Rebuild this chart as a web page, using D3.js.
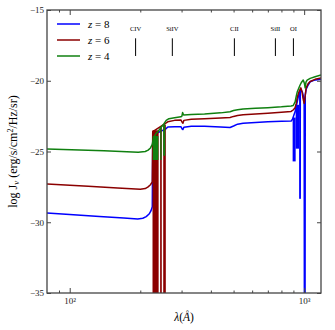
<!DOCTYPE html>
<html>
<head>
<meta charset="utf-8">
<script src="https://cdn.jsdelivr.net/npm/d3@7"></script>
<style>
  body { margin: 0; background: #fff; }
  text { font-family: "Liberation Serif", "DejaVu Serif", serif; }
</style>
</head>
<body>
<div id="chart"></div>
<script>
// data: [wavelength (A), log J]
const z8Line = [[80,-29.35],[100,-29.45],[134,-29.6],[170,-29.7],[195,-29.77],[205,-29.72],[212,-29.6],[218,-29.42],[222,-29.2],[225,-28.9],[226,-24.2],[229,-23.8],[257,-23.4],[262,-23.27],[280,-23.25],[298,-23.25],[302,-23.42],[304,-23.45],[307,-23.28],[330,-23.22],[376,-23.21],[440,-23.26],[483,-23.3],[500,-23.2],[520,-23.07],[549,-23.0],[620,-22.95],[700,-22.9],[800,-22.87],[880,-22.85],[893,-22.7],[905,-22.4],[915,-22.2],[925,-21.8],[934,-21.5],[945,-21.1],[955,-20.8],[958,-20.75],[959,-28.3],[962,-28.3],[963,-20.7],[975,-20.7],[985,-20.85],[995,-21.2],[1000,-21.6],[1002,-35],[1009,-35],[1011,-21.0],[1020,-20.6],[1040,-20.3],[1061,-20.07],[1100,-19.97],[1180,-19.9]]
const z6Line = [[80,-27.3],[120,-27.45],[160,-27.58],[200,-27.66],[210,-27.62],[216,-27.5],[221,-27.35],[225,-27.15],[226,-23.6],[257,-23.0],[262,-22.9],[280,-22.8],[298,-22.77],[302,-22.95],[304,-23.0],[307,-22.8],[330,-22.72],[376,-22.69],[440,-22.64],[483,-22.6],[500,-22.52],[520,-22.45],[549,-22.4],[620,-22.35],[700,-22.3],[800,-22.23],[880,-22.17],[900,-22.05],[915,-21.9],[925,-21.6],[934,-21.2],[945,-20.9],[955,-20.7],[968,-20.5],[980,-20.8],[988,-21.2],[1000,-21.6],[1008,-21.2],[1020,-20.5],[1040,-20.2],[1061,-20.05],[1113,-19.9],[1180,-19.8]]
const z4Line = [[80,-24.82],[140,-24.95],[196,-25.06],[210,-25.0],[216,-24.9],[221,-24.75],[225,-24.5],[228,-24.0],[233,-23.75],[239,-23.55],[245,-23.3],[252,-23.05],[258,-22.8],[265,-22.68],[280,-22.62],[298,-22.55],[301,-22.5],[303,-22.25],[306,-22.42],[330,-22.38],[376,-22.35],[440,-22.27],[483,-22.19],[500,-22.1],[520,-22.05],[549,-22.0],[620,-21.95],[700,-21.9],[800,-21.84],[880,-21.78],[898,-21.75],[915,-21.5],[925,-21.1],[934,-20.8],[950,-20.5],[961,-20.3],[975,-20.1],[991,-19.95],[1003,-20.2],[1010,-20.5],[1018,-20.1],[1030,-19.95],[1061,-19.83],[1113,-19.72],[1180,-19.6]]

// absorption troughs: [lambda from, lambda to, top, bottom]
const z8Bands = [[893,920,-22.6,-25.7],[920,952,-21.7,-24.8]]
const z6Bands = [[225.5,239.5,-23.5,-35],[243,247,-23.3,-35],[250.5,257,-23.1,-35]]
const z4Bands = [[226,239,-23.9,-25.6],[243.5,246.5,-23.3,-25.6],[250.5,255.5,-23.1,-25.3]]

const redshifts = [8, 6, 4]
const colors = ['#0000ff', '#8b0000', '#108010']

const edgeNames = ['CIV', 'SiIV', 'CII', 'SiII', 'OI']
const edgeLambda = [191, 274, 504, 754, 900]

const xMajor = [100, 1000]
const xMinor = [90, 200, 300, 400, 500, 600, 700, 800, 900]
const yTicks = [-35, -30, -25, -20, -15]

// dimensions
const width = 335, height = 330
const margin = {top: 10, right: 14, bottom: 37, left: 47}

const svg = d3.select('#chart').append('svg')
  .attr('width', width)
  .attr('height', height)

const x = d3.scaleLog()
  .domain([80, 1180])
  .range([margin.left, width - margin.right])

const y = d3.scaleLinear()
  .domain([-35, -15])
  .range([height - margin.bottom, margin.top])

const defs = svg.append('defs')
defs.append('clipPath').attr('id', 'clip')
  .append('rect')
  .attr('x', margin.left).attr('y', margin.top)
  .attr('width', width - margin.left - margin.right)
  .attr('height', height - margin.top - margin.bottom)

const plot = svg.append('g').attr('clip-path', 'url(#clip)')

const line = d3.line()
  .x(d => x(d[0]))
  .y(d => y(d[1]))

const lines = [z8Line, z6Line, z4Line]
const bands = [z8Bands, z6Bands, z4Bands]

lines.forEach((ln, i) => {
  plot.append('g')
    .selectAll('rect')
    .data(bands[i])
    .join('rect')
    .attr('x', d => x(d[0]))
    .attr('width', d => x(d[1]) - x(d[0]))
    .attr('y', d => y(d[2]))
    .attr('height', d => y(d[3]) - y(d[2]))
    .attr('fill', colors[i])

  plot.append('path')
    .datum(ln)
    .attr('d', line)
    .attr('fill', 'none')
    .attr('stroke', colors[i])
    .attr('stroke-width', 1.5)
    .attr('stroke-linejoin', 'round')
})

// edge markers
const edges = svg.append('g')
edges.selectAll('line')
  .data(edgeLambda)
  .join('line')
  .attr('x1', d => x(d)).attr('x2', d => x(d))
  .attr('y1', y(-17)).attr('y2', y(-18.25))
  .attr('stroke', '#000')
  .attr('stroke-width', 1)
edges.selectAll('text')
  .data(edgeNames)
  .join('text')
  .attr('x', (d, i) => x(edgeLambda[i]))
  .attr('y', y(-16.5))
  .attr('text-anchor', 'middle')
  .attr('font-size', 6.5)
  .text(d => d)

// axes
const axisColor = '#444'
function styleAxis(g) {
  g.select('.domain').remove()
  g.selectAll('line').attr('stroke', axisColor)
  g.selectAll('text').attr('font-size', 9).attr('fill', '#222')
}

svg.append('g')
  .attr('transform', `translate(0,${y(-35)})`)
  .call(d3.axisBottom(x).tickValues(xMajor).tickSize(-5).tickPadding(5)
    .tickFormat(d => d === 100 ? '10²' : '10³'))
  .call(styleAxis)
svg.append('g')
  .attr('transform', `translate(0,${y(-35)})`)
  .call(d3.axisBottom(x).tickValues(xMinor).tickSize(-2.5).tickFormat(''))
  .call(styleAxis)
svg.append('g')
  .attr('transform', `translate(0,${y(-15)})`)
  .call(d3.axisTop(x).tickValues(xMajor).tickSize(-5).tickFormat(''))
  .call(styleAxis)
svg.append('g')
  .attr('transform', `translate(0,${y(-15)})`)
  .call(d3.axisTop(x).tickValues(xMinor).tickSize(-2.5).tickFormat(''))
  .call(styleAxis)
svg.append('g')
  .attr('transform', `translate(${x(80)},0)`)
  .call(d3.axisLeft(y).tickValues(yTicks).tickSize(-4).tickPadding(3))
  .call(styleAxis)
svg.append('g')
  .attr('transform', `translate(${x(1180)},0)`)
  .call(d3.axisRight(y).tickValues(yTicks).tickSize(-4).tickFormat(''))
  .call(styleAxis)

// frame
svg.append('rect')
  .attr('x', x(80)).attr('y', y(-15))
  .attr('width', x(1180) - x(80))
  .attr('height', y(-35) - y(-15))
  .attr('fill', 'none')
  .attr('stroke', axisColor)
  .attr('stroke-width', 1.3)

// legend
const legend = svg.append('g')
redshifts.forEach((z, i) => {
  const ly = 24 + i * 16
  legend.append('line')
    .attr('x1', 57).attr('x2', 80)
    .attr('y1', ly).attr('y2', ly)
    .attr('stroke', colors[i])
    .attr('stroke-width', 1.5)
  const t = legend.append('text')
    .attr('x', 88).attr('y', ly + 3.5)
    .attr('font-size', 11)
  t.append('tspan').attr('font-style', 'italic').text('z')
  t.append('tspan').text(' = ' + z)
})

// axis labels
svg.append('text')
  .attr('x', x(Math.sqrt(80 * 1180)))
  .attr('y', 321)
  .attr('text-anchor', 'middle')
  .attr('font-size', 11.5)
  .html('<tspan font-style="italic">λ</tspan>(<tspan font-style="italic">Å</tspan>)')

const yl = svg.append('text')
  .attr('transform', `translate(17,${(y(-15) + y(-35)) / 2}) rotate(-90)`)
  .attr('text-anchor', 'middle')
  .attr('font-size', 12)
yl.append('tspan').text('log J')
yl.append('tspan').attr('font-style', 'italic').attr('font-size', 9).attr('dy', 2).text('ν')
yl.append('tspan').attr('dy', -2).text(' (erg/s/cm')
yl.append('tspan').attr('font-size', 8).attr('dy', -4).text('2')
yl.append('tspan').attr('dy', 4).text('/Hz/sr)')
</script>
</body>
</html>
